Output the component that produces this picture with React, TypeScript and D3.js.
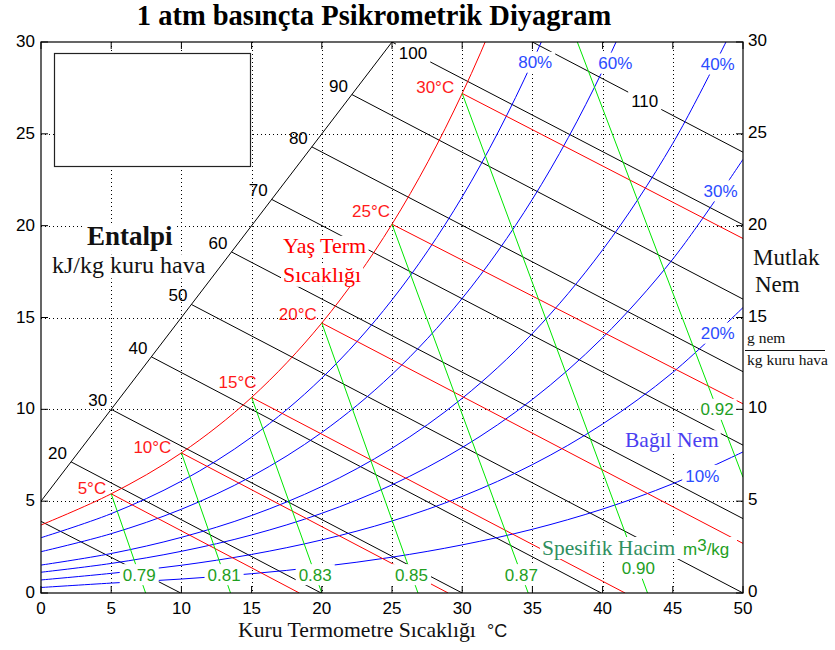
import React from 'react';
import * as d3 from 'd3';

// ---------- DATA ----------
const TEMPS = [0, 5, 10, 15, 20, 25, 30, 35, 40, 45, 50];
const SAT_W = [3.70, 5.40, 7.63, 10.65, 14.70, 20.08, 27.20, 36.6, 48.9, 65.0, 86.3];
const RH_LABELS = ['10%', '20%', '30%', '40%', '60%', '80%'];
const RH10 = [0.30, 0.54, 0.76, 1.05, 1.44, 1.95, 2.62, 3.47, 4.57, 5.95, 7.68];
const RH20 = [0.71, 1.07, 1.51, 2.10, 2.89, 3.92, 5.26, 6.99, 9.20, 12.01, 15.54];
const RH30 = [1.13, 1.61, 2.27, 3.16, 4.34, 5.89, 7.92, 10.54, 13.90, 18.18, 23.61];
const RH40 = [1.52, 2.15, 3.03, 4.22, 5.80, 7.88, 10.60, 14.13, 18.68, 24.48, 31.88];
const RH60 = [2.25, 3.23, 4.56, 6.35, 8.74, 11.90, 16.04, 21.44, 28.44, 37.46, 49.1];
const RH80 = [3.01, 4.32, 6.09, 8.49, 11.70, 15.96, 21.57, 28.92, 38.5, 51.0, 67.2];
const RH_LABEL_T = [47.1, 48.2, 48.4, 48.2, 40.9, 35.2];
const RH_LABEL_W = [6.4, 14.15, 21.9, 28.8, 28.85, 28.9];

const ENTH_H = [10, 20, 30, 40, 50, 60, 70, 80, 90, 100, 110];
const ENTH_T0 = [0, 2.14, 5, 7.86, 10.71, 13.57, 16.43, 19.29, 22.14, 25, 35];
const ENTH_W0 = [3.9, 7.14, 10, 12.86, 15.71, 18.57, 21.43, 24.29, 27.14, 30, 30];
const ENTH_T1 = [9.95, 19.95, 30, 39.9, 50, 50, 50, 50, 50, 50, 50];
const ENTH_W1 = [0, 0, 0, 0, 0, 4.05, 8.05, 12.05, 16.0, 20.05, 24.0];
const DIAG_T = [0, 25];
const DIAG_W = [5, 30];
const ENTH_INLINE_T = [26.5, 43.0]; // labels 100 and 110

const WB_T = [5, 10, 15, 20, 25, 30];
const WB_W0 = [5.40, 7.63, 10.65, 14.70, 20.08, 27.20];
const WB_T1 = [18.4, 29.0, 41.6, 50, 50, 50];
const WB_W1 = [0, 0, 0, 2.7, 10.3, 19.3];

const VOL_LABELS = ['0.79', '0.81', '0.83', '0.85', '0.87', '0.90', '0.92'];
const VOL_T0 = [5, 10, 15, 20, 25, 30, 38.2];
const VOL_W0 = [5.40, 7.63, 10.65, 14.70, 20.08, 27.20, 30];
const VOL_T1 = [7.45, 13.5, 20.0, 26.85, 34.7, 43.2, 50];
const VOL_W1 = [0, 0, 0, 0, 0, 0, 6.3];
const VOL_LABEL_W = [1.0, 1.0, 1.0, 1.0, 1.0, 1.35, 10.0];

const X_TICKS = [0, 5, 10, 15, 20, 25, 30, 35, 40, 45, 50];
const Y_TICKS = [0, 5, 10, 15, 20, 25, 30];

// ---------- LAYOUT ----------
const W = 835, H = 650;
const SANS = "'Liberation Sans', Arial, Helvetica, sans-serif";
const SERIF = "'Liberation Serif', 'Times New Roman', Times, serif";
const WB_DX = [-5, -10, 5, -5, -2, -8];
const WB_DY = [0, 0, -9, -3, -7, 0];

let _ctx: CanvasRenderingContext2D | null = null;
function textWidth(s: string, font: string) {
  if (!_ctx && typeof document !== 'undefined') _ctx = document.createElement('canvas').getContext('2d');
  if (!_ctx) return s.length * 9;
  _ctx.font = font;
  return _ctx.measureText(s).width;
}

function BgLabel({ cx, cy, text, color, size = 17 }: any) {
  const w = textWidth(text, `${size}px ${SANS}`);
  return (
    <g>
      <rect x={cx - w / 2 - 3} y={cy - size / 2 - 2} width={w + 6} height={size + 4} fill="#fff" />
      <text x={cx} y={cy + size * 0.36} textAnchor="middle" fill={color} fontFamily={SANS} fontSize={size}>{text}</text>
    </g>
  );
}

function BgText({ x0, y0, text, color, size, font, weight = 'normal' }: any) {
  const w = textWidth(text, `${weight} ${size}px ${font}`);
  return (
    <g>
      <rect x={x0 - 2} y={y0 - size * 0.78} width={w + 4} height={size * 1.0} fill="#fff" />
      <text x={x0} y={y0} fill={color} fontFamily={font} fontSize={size} fontWeight={weight}>{text}</text>
    </g>
  );
}

export default function App() {
  const x = d3.scaleLinear().domain([0, 50]).range([41, 743]);
  const y = d3.scaleLinear().domain([0, 30]).range([593, 42]);
  const smooth = d3.line<[number, number]>().x(d => x(d[0])).y(d => y(d[1])).curve(d3.curveCatmullRom.alpha(0.5));
  const seg = d3.line<[number, number]>().x(d => x(d[0])).y(d => y(d[1]));

  const rhSeries = [RH10, RH20, RH30, RH40, RH60, RH80];
  const left = x(0), right = x(50), top = y(30), bottom = y(0);

  const lerpT = (t0: number, w0: number, t1: number, w1: number, w: number) => t0 + (t1 - t0) * (w - w0) / (w1 - w0);
  const enthAt = (i: number, t: number) => {
    const f = (t - ENTH_T0[i]) / (ENTH_T1[i] - ENTH_T0[i]);
    return ENTH_W0[i] + f * (ENTH_W1[i] - ENTH_W0[i]);
  };

  return (
    <svg width={W} height={H} style={{ position: 'absolute', left: 0, top: 0, background: '#fff' }}>
      <defs>
        <clipPath id="plot"><rect x={left} y={top} width={right - left} height={bottom - top} /></clipPath>
      </defs>
      <rect x={0} y={0} width={W} height={H} fill="#fff" />

      {/* grid */}
      <g stroke="#000" strokeWidth={1} strokeDasharray="1,3">
        {X_TICKS.slice(1, -1).map(t => (
          <line key={'gx' + t} x1={Math.round(x(t)) + 0.5} x2={Math.round(x(t)) + 0.5} y1={top} y2={bottom} />
        ))}
        {Y_TICKS.slice(1, -1).map(t => (
          <line key={'gy' + t} y1={Math.round(y(t)) + 0.5} y2={Math.round(y(t)) + 0.5} x1={left} x2={right} />
        ))}
      </g>

      {/* empty box top-left */}
      <rect x={54.5} y={53.5} width={196} height={113} fill="#fff" stroke="#222" strokeWidth={1.2} />

      <g clipPath="url(#plot)" fill="none" strokeWidth={1}>
        {/* enthalpy */}
        <path d={seg(DIAG_T.map((t, i) => [t, DIAG_W[i]]) as any) || ''} stroke="#000" />
        {ENTH_H.map((h, i) => (
          <path key={'h' + h} d={seg([[ENTH_T0[i], ENTH_W0[i]], [ENTH_T1[i], ENTH_W1[i]]]) || ''} stroke="#000" />
        ))}
        {/* RH */}
        {rhSeries.map((s, k) => (
          <path key={'rh' + k} d={smooth(TEMPS.map((t, i) => [t, s[i]]) as any) || ''} stroke="#0000ff" />
        ))}
        {/* saturation */}
        <path d={smooth(TEMPS.map((t, i) => [t, SAT_W[i]]) as any) || ''} stroke="#ff0000" />
        {/* wet bulb */}
        {WB_T.map((t, i) => (
          <path key={'wb' + t} d={seg([[t, WB_W0[i]], [WB_T1[i], WB_W1[i]]]) || ''} stroke="#ff0000" />
        ))}
        {/* specific volume */}
        {VOL_LABELS.map((l, i) => (
          <path key={'v' + l} d={seg([[VOL_T0[i], VOL_W0[i]], [VOL_T1[i], VOL_W1[i]]]) || ''} stroke="#00e600" />
        ))}
      </g>

      {/* inline labels with white background */}
      {VOL_LABELS.map((l, i) => {
        const t = lerpT(VOL_T0[i], VOL_W0[i], VOL_T1[i], VOL_W1[i], VOL_LABEL_W[i]);
        return <BgLabel key={'vl' + l} cx={x(t)} cy={y(VOL_LABEL_W[i])} text={l} color="#1f9f1f" />;
      })}
      {RH_LABELS.map((l, i) => (
        <BgLabel key={'rl' + l} cx={x(RH_LABEL_T[i])} cy={y(RH_LABEL_W[i])} text={l} color="#2b4cff" />
      ))}
      {ENTH_INLINE_T.map((t, k) => {
        const i = ENTH_H.length - 2 + k;
        return <BgLabel key={'ei' + k} cx={x(t)} cy={y(enthAt(i, t))} text={String(ENTH_H[i])} color="#000" />;
      })}

      {/* enthalpy labels on diagonal */}
      {ENTH_H.slice(1, 9).map((h, k) => {
        const i = k + 1;
        return (
          <text key={'el' + h} x={x(ENTH_T0[i]) - 4} y={y(ENTH_W0[i]) - 3} textAnchor="end"
            fontFamily={SANS} fontSize={17} fill="#000">{h}</text>
        );
      })}

      {/* wet bulb labels */}
      {WB_T.map((t, i) => (
        <text key={'wl' + t} x={x(t) + WB_DX[i]} y={y(WB_W0[i]) + WB_DY[i]} textAnchor="end"
          fontFamily={SANS} fontSize={17} fill="#ff1a1a">{t}°C</text>
      ))}

      {/* annotation texts */}
      <BgText x0={87} y0={245} text="Entalpi" color="#111" size={27} font={SERIF} weight="bold" />
      <BgText x0={52} y0={273} text="kJ/kg kuru hava" color="#111" size={24} font={SERIF} />
      <BgText x0={283} y0={253} text="Yaş Term" color="#ff0000" size={22} font={SERIF} />
      <BgText x0={283} y0={282} text="Sıcaklığı" color="#ff0000" size={22} font={SERIF} />
      <BgText x0={625} y0={447} text="Bağıl Nem" color="#4a3ef0" size={21.5} font={SERIF} />
      <rect x={540} y={537} width={197} height={22} fill="#fff" />
      <text x={542} y={555} fill="#2f8f5f" fontFamily={SERIF} fontSize={21.5}>Spesifik Hacim</text>
      <text x={683} y={555} fill="#1f9f1f" fontFamily={SANS} fontSize={17}>m<tspan dy={-4}>3</tspan><tspan dy={4}>/kg</tspan></text>

      {/* frame and ticks */}
      <rect x={left} y={top} width={right - left} height={bottom - top} fill="none" stroke="#000" strokeWidth={1.2} />
      <g stroke="#000" strokeWidth={1}>
        {X_TICKS.map(t => (
          <g key={'tx' + t}>
            <line x1={x(t)} x2={x(t)} y1={bottom} y2={bottom - 7} />
            <line x1={x(t)} x2={x(t)} y1={top} y2={top + 7} />
          </g>
        ))}
        {Y_TICKS.map(t => (
          <g key={'ty' + t}>
            <line x1={left} x2={left + 7} y1={y(t)} y2={y(t)} />
            <line x1={right} x2={right - 7} y1={y(t)} y2={y(t)} />
          </g>
        ))}
      </g>
      <g fontFamily={SANS} fontSize={17} fill="#000">
        {X_TICKS.map(t => (
          <text key={'xl' + t} x={x(t)} y={614} textAnchor="middle">{t}</text>
        ))}
        {Y_TICKS.map(t => (
          <text key={'yl' + t} x={35} y={y(t) + 5} textAnchor="end">{t}</text>
        ))}
        {Y_TICKS.map(t => (
          <text key={'yr' + t} x={748} y={y(t) + 4} textAnchor="start">{t}</text>
        ))}
      </g>

      {/* titles */}
      <text x={374} y={25} textAnchor="middle" fontFamily={SERIF} fontWeight="bold" fontSize={28.5} fill="#000">
        1 atm basınçta Psikrometrik Diyagram
      </text>
      <text x={238} y={637} fontFamily={SERIF} fontSize={21.7} fill="#111">Kuru Termometre Sıcaklığı</text>
      <text x={487} y={637} fontFamily={SANS} fontSize={18} fill="#111">°C</text>
      <text x={753} y={265} fontFamily={SERIF} fontSize={23} fill="#111">Mutlak</text>
      <text x={755} y={292} fontFamily={SERIF} fontSize={23} fill="#111">Nem</text>
      <text x={747} y={343} fontFamily={SERIF} fontSize={15.5} fill="#111">g nem</text>
      <line x1={745} x2={825} y1={350.5} y2={350.5} stroke="#111" strokeWidth={1} />
      <text x={747} y={365} fontFamily={SERIF} fontSize={15.5} fill="#111">kg kuru hava</text>
    </svg>
  );
}
